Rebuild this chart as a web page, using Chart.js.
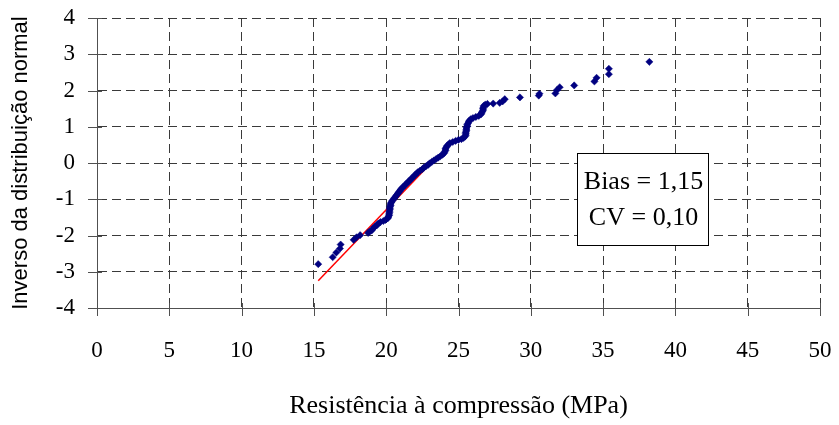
<!DOCTYPE html>
<html>
<head>
<meta charset="utf-8">
<script src="https://cdn.jsdelivr.net/npm/chart.js@4/dist/chart.umd.min.js"></script>
<style>
  html, body { margin: 0; padding: 0; background: #fff; }
  canvas { display: block; }
</style>
</head>
<body>
<canvas id="c" width="839" height="425"></canvas>
<script>
// Observed compressive strengths (MPa)
const strength = [
  15.3, 16.3, 16.55, 16.8, 16.85, 17.75, 17.95, 18.2, 18.75, 18.85,
  19.0, 19.1, 19.2, 19.35, 19.45, 19.6, 19.8, 19.95, 20.1, 20.15,
  20.2, 20.2, 20.22, 20.22, 20.25, 20.25, 20.27, 20.3, 20.3, 20.35,
  20.4, 20.5, 20.55, 20.65, 20.7, 20.8, 20.85, 20.95, 21.0, 21.1,
  21.2, 21.3, 21.4, 21.5, 21.6, 21.7, 21.8, 21.9, 22.0, 22.1,
  22.2, 22.35, 22.5, 22.6, 22.75, 22.9, 23.0, 23.15, 23.3, 23.45,
  23.6, 23.75, 23.9, 24.0, 24.05, 24.1, 24.1, 24.15, 24.2, 24.3,
  24.4, 24.6, 24.8, 25.0, 25.2, 25.35, 25.45, 25.5, 25.5, 25.5,
  25.55, 25.55, 25.55, 25.6, 25.6, 25.65, 25.7, 25.75, 25.85, 26.0,
  26.2, 26.4, 26.55, 26.6, 26.65, 26.7, 26.7, 26.72, 26.75, 26.85,
  27.0, 27.4, 27.85, 28.05, 28.2, 29.25, 30.55, 30.6, 31.7, 31.8,
  32.0, 33.0, 34.4, 34.55, 35.4, 35.4, 38.2
];
// Standard normal quantile of each ranked observation
const normalScore = [
  -2.79, -2.60, -2.47, -2.36, -2.25, -2.12, -2.05, -1.99, -1.93, -1.89,
  -1.86, -1.80, -1.76, -1.72, -1.67, -1.63, -1.60, -1.57, -1.53, -1.49,
  -1.45, -1.41, -1.37, -1.33, -1.29, -1.25, -1.21, -1.17, -1.13, -1.09,
  -1.05, -1.01, -0.97, -0.93, -0.89, -0.85, -0.81, -0.77, -0.73, -0.69,
  -0.65, -0.61, -0.57, -0.53, -0.49, -0.45, -0.41, -0.37, -0.33, -0.29,
  -0.25, -0.21, -0.17, -0.13, -0.09, -0.05, -0.01, 0.03, 0.07, 0.11,
  0.15, 0.19, 0.23, 0.27, 0.31, 0.35, 0.39, 0.43, 0.47, 0.51,
  0.55, 0.58, 0.61, 0.64, 0.66, 0.69, 0.73, 0.77, 0.81, 0.85,
  0.89, 0.93, 0.97, 1.01, 1.05, 1.09, 1.13, 1.17, 1.21, 1.24,
  1.27, 1.30, 1.34, 1.38, 1.42, 1.46, 1.50, 1.54, 1.58, 1.61,
  1.63, 1.64, 1.66, 1.70, 1.76, 1.81, 1.86, 1.91, 1.92, 2.01,
  2.09, 2.14, 2.25, 2.35, 2.45, 2.60, 2.79
];
// Fitted normal line (lower tail)
const fitX = [15.3, 23.1];
const fitY = [-3.25, 0.0];
// Axis ticks
const xTicks = [0, 5, 10, 15, 20, 25, 30, 35, 40, 45, 50];
const yTicks = [-4, -3, -2, -1, 0, 1, 2, 3, 4];
// Box text
const statsLines = ['Bias = 1,15', 'CV = 0,10'];

const scatterData = strength.map((x, i) => ({ x: x, y: normalScore[i] }));
const fitData = fitX.map((x, i) => ({ x: x, y: fitY[i] }));

const serif = "'Liberation Serif', 'Times New Roman', serif";
const sans = "'Liberation Sans', Arial, sans-serif";

// Short tick marks crossing each axis
const crossTicks = {
  id: 'crossTicks',
  afterDraw(chart) {
    const { ctx, chartArea, scales } = chart;
    ctx.save();
    ctx.strokeStyle = '#505050';
    ctx.lineWidth = 1;
    ctx.beginPath();
    xTicks.forEach(v => {
      const px = Math.round(scales.x.getPixelForValue(v)) + 0.5;
      ctx.moveTo(px, chartArea.bottom - 5);
      ctx.lineTo(px, chartArea.bottom + 8);
    });
    yTicks.forEach(v => {
      const py = Math.round(scales.y.getPixelForValue(v)) + 0.5;
      ctx.moveTo(chartArea.left - 9, py);
      ctx.lineTo(chartArea.left + 5, py);
    });
    ctx.stroke();
    ctx.restore();
  }
};

// Boxed statistics label
const statsBox = {
  id: 'statsBox',
  afterDatasetsDraw(chart) {
    const ctx = chart.ctx;
    const bx = 577, by = 153, bw = 131, bh = 92;
    ctx.save();
    ctx.fillStyle = '#ffffff';
    ctx.fillRect(bx, by, bw, bh);
    ctx.strokeStyle = '#000000';
    ctx.lineWidth = 1;
    ctx.strokeRect(bx + 0.5, by + 0.5, bw, bh);
    ctx.fillStyle = '#000000';
    ctx.font = "26px " + serif;
    ctx.textAlign = 'center';
    ctx.textBaseline = 'middle';
    ctx.fillText(statsLines[0], bx + bw / 2 + 1, by + 29);
    ctx.fillText(statsLines[1], bx + bw / 2 + 1, by + 65);
    ctx.restore();
  }
};

new Chart(document.getElementById('c'), {
  type: 'scatter',
  data: {
    datasets: [
      {
        data: scatterData,
        pointStyle: 'rectRot',
        pointRadius: 3.6,
        pointBackgroundColor: '#000080',
        pointBorderColor: '#000080',
        pointBorderWidth: 0.5,
        showLine: false
      },
      {
        type: 'line',
        data: fitData,
        borderColor: '#ff0000',
        borderWidth: 1.5,
        pointRadius: 0,
        fill: false,
        tension: 0
      }
    ]
  },
  options: {
    responsive: false,
    animation: false,
    devicePixelRatio: 1,
    layout: { padding: { left: 0, right: 19, top: 18, bottom: 0 } },
    plugins: { legend: { display: false }, tooltip: { enabled: false } },
    scales: {
      x: {
        type: 'linear',
        min: 0, max: 50,
        afterFit(scale) {
          scale.height = 117;
          scale.paddingLeft = 0;
          scale.paddingRight = 0;
        },
        afterBuildTicks(scale) { scale.ticks = xTicks.map(v => ({ value: v })); },
        ticks: {
          padding: 29,
          color: '#000',
          font: { family: serif, size: 23 },
          maxRotation: 0,
          minRotation: 0
        },
        grid: { color: '#3a3a3a', lineWidth: 1, drawTicks: false },
        border: { display: true, color: '#505050', width: 1, dash: [9, 5] },
        title: {
          display: true,
          text: 'Resistência à compressão (MPa)',
          color: '#000',
          font: { family: serif, size: 26 },
          padding: { top: 0, bottom: 3 }
        }
      },
      y: {
        type: 'linear',
        min: -4, max: 4,
        afterFit(scale) {
          scale.width = 97;
          scale.paddingTop = 0;
          scale.paddingBottom = 0;
        },
        afterBuildTicks(scale) { scale.ticks = yTicks.map(v => ({ value: v })); },
        ticks: {
          padding: 22,
          color: '#000',
          font: { family: serif, size: 23 }
        },
        grid: { color: '#3a3a3a', lineWidth: 1, drawTicks: false },
        border: { display: true, color: '#505050', width: 1, dash: [9, 5] },
        title: {
          display: true,
          text: 'Inverso da distribuição normal',
          color: '#000',
          font: { family: sans, size: 22 },
          padding: { top: 8, bottom: 0 }
        }
      }
    }
  },
  plugins: [crossTicks, statsBox]
});
</script>
</body>
</html>
